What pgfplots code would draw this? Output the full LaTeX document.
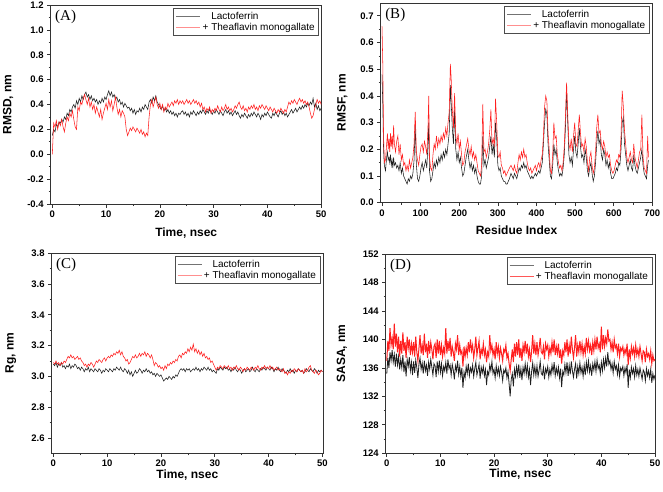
\documentclass[border=0pt]{standalone}
\usepackage{fontspec}
\setmainfont{Liberation Sans}
\newfontfamily\tnr{Liberation Serif}
\usepackage{pgfplots}
\usepackage{pgfplotstable}
\pgfplotsset{compat=1.18}

\definecolor{lfblk}{HTML}{1E1E1E}
\definecolor{tfred}{HTML}{FF1F1F}

% RMSD (A): time, lactoferrin, + theaflavin monogallate
\pgfplotstableread{
t lf tf
0 0.15 0.00
0.25 0.20 0.25
0.5 0.18 0.22
0.75 0.24 0.27
1 0.22 0.20
1.25 0.26 0.26
1.5 0.25 0.23
1.75 0.28 0.28
2 0.26 0.22
2.25 0.30 0.18
2.5 0.28 0.25
2.75 0.33 0.30
3 0.31 0.27
3.25 0.36 0.33
3.5 0.34 0.30
3.75 0.38 0.35
4 0.40 0.28
4.25 0.37 0.22
4.5 0.43 0.20
4.75 0.40 0.38
5 0.45 0.35
5.25 0.42 0.42
5.5 0.47 0.40
5.75 0.44 0.45
6 0.48 0.48
6.25 0.50 0.44
6.5 0.46 0.40
6.75 0.48 0.45
7 0.44 0.38
7.25 0.47 0.42
7.5 0.43 0.36
7.75 0.45 0.40
8 0.42 0.33
8.25 0.44 0.38
8.5 0.40 0.34
8.75 0.43 0.30
9 0.41 0.36
9.25 0.45 0.28
9.5 0.42 0.33
9.75 0.46 0.37
10 0.44 0.41
10.25 0.48 0.36
10.5 0.51 0.44
10.75 0.47 0.38
11 0.50 0.43
11.25 0.46 0.35
11.5 0.48 0.40
11.75 0.44 0.46
12 0.46 0.38
12.25 0.42 0.32
12.5 0.44 0.36
12.75 0.40 0.30
13 0.42 0.35
13.25 0.38 0.33
13.5 0.41 0.30
13.75 0.39 0.20
14 0.37 0.15
14.25 0.38 0.18
14.5 0.35 0.21
14.75 0.37 0.19
15 0.33 0.22
15.25 0.36 0.20
15.5 0.32 0.18
15.75 0.35 0.21
16 0.34 0.19
16.25 0.37 0.17
16.5 0.34 0.20
16.75 0.38 0.16
17 0.36 0.18
17.25 0.40 0.14
17.5 0.38 0.17
17.75 0.36 0.15
18 0.42 0.30
18.25 0.44 0.40
18.5 0.41 0.44
18.75 0.46 0.38
19 0.43 0.42
19.25 0.47 0.46
19.5 0.42 0.40
19.75 0.40 0.37
20 0.38 0.41
20.25 0.36 0.36
20.5 0.39 0.40
20.75 0.35 0.34
21 0.37 0.38
21.25 0.34 0.36
21.5 0.36 0.41
21.75 0.33 0.38
22 0.35 0.40
22.25 0.32 0.42
22.5 0.34 0.39
22.75 0.31 0.43
23 0.33 0.41
23.25 0.30 0.44
23.5 0.33 0.40
23.75 0.32 0.43
24 0.34 0.41
24.25 0.35 0.43
24.5 0.32 0.40
24.75 0.34 0.42
25 0.31 0.44
25.25 0.33 0.41
25.5 0.30 0.43
25.75 0.34 0.40
26 0.32 0.42
26.25 0.35 0.44
26.5 0.33 0.41
26.75 0.31 0.43
27 0.34 0.40
27.25 0.32 0.42
27.5 0.35 0.38
27.75 0.33 0.41
28 0.36 0.36
28.25 0.34 0.38
28.5 0.32 0.34
28.75 0.35 0.37
29 0.33 0.35
29.25 0.36 0.38
29.5 0.34 0.33
29.75 0.32 0.36
30 0.35 0.34
30.25 0.33 0.37
30.5 0.36 0.35
30.75 0.34 0.39
31 0.32 0.36
31.25 0.35 0.34
31.5 0.33 0.38
31.75 0.31 0.35
32 0.34 0.37
32.25 0.36 0.40
32.5 0.33 0.36
32.75 0.35 0.38
33 0.32 0.35
33.25 0.34 0.37
33.5 0.31 0.34
33.75 0.33 0.36
34 0.35 0.39
34.25 0.32 0.37
34.5 0.34 0.40
34.75 0.31 0.42
35 0.29 0.38
35.25 0.32 0.36
35.5 0.30 0.39
35.75 0.33 0.35
36 0.31 0.37
36.25 0.29 0.34
36.5 0.32 0.38
36.75 0.30 0.36
37 0.33 0.39
37.25 0.31 0.37
37.5 0.34 0.40
37.75 0.32 0.36
38 0.30 0.38
38.25 0.33 0.35
38.5 0.31 0.39
38.75 0.28 0.37
39 0.32 0.40
39.25 0.30 0.38
39.5 0.33 0.36
39.75 0.31 0.39
40 0.34 0.37
40.25 0.32 0.35
40.5 0.30 0.38
40.75 0.29 0.36
41 0.33 0.34
41.25 0.31 0.37
41.5 0.34 0.35
41.75 0.32 0.33
42 0.30 0.36
42.25 0.33 0.34
42.5 0.35 0.37
42.75 0.32 0.35
43 0.34 0.33
43.25 0.31 0.36
43.5 0.33 0.34
43.75 0.30 0.38
44 0.32 0.42
44.25 0.34 0.40
44.5 0.36 0.43
44.75 0.33 0.41
45 0.35 0.44
45.25 0.37 0.42
45.5 0.34 0.40
45.75 0.36 0.43
46 0.38 0.45
46.25 0.36 0.42
46.5 0.39 0.44
46.75 0.37 0.41
47 0.40 0.43
47.25 0.38 0.40
47.5 0.41 0.42
47.75 0.39 0.38
48 0.42 0.33
48.25 0.40 0.29
48.5 0.45 0.31
48.75 0.38 0.36
49 0.41 0.40
49.25 0.36 0.44
49.5 0.39 0.41
49.75 0.35 0.43
50 0.37 0.40
}\rmsd

% RMSF (B): residue, lactoferrin, + theaflavin monogallate
\pgfplotstableread{
r lf tf
0 0.48 0.66
2 0.37 0.52
4 0.20 0.25
6 0.14 0.15
9 0.12 0.16
12 0.17 0.22
14 0.19 0.26
16 0.16 0.20
18 0.17 0.24
20 0.15 0.19
22 0.18 0.26
24 0.14 0.21
26 0.16 0.25
28 0.13 0.20
30 0.17 0.29
32 0.14 0.22
35 0.15 0.19
38 0.13 0.23
41 0.14 0.25
44 0.12 0.18
47 0.15 0.22
50 0.11 0.16
53 0.13 0.18
56 0.10 0.14
59 0.09 0.15
62 0.08 0.12
65 0.07 0.14
68 0.09 0.12
71 0.08 0.16
74 0.10 0.13
77 0.09 0.15
80 0.11 0.17
83 0.16 0.22
86 0.29 0.34
89 0.14 0.19
92 0.09 0.16
95 0.08 0.14
98 0.10 0.18
101 0.13 0.21
104 0.15 0.22
107 0.12 0.19
110 0.14 0.23
113 0.16 0.21
116 0.13 0.18
119 0.22 0.28
121 0.30 0.40
123 0.12 0.17
126 0.08 0.13
129 0.09 0.12
132 0.12 0.18
135 0.15 0.22
138 0.13 0.20
141 0.16 0.25
144 0.14 0.21
147 0.17 0.24
150 0.15 0.22
153 0.18 0.25
156 0.16 0.23
159 0.19 0.26
162 0.17 0.24
165 0.20 0.28
168 0.18 0.25
171 0.22 0.30
174 0.26 0.34
177 0.44 0.52
179 0.38 0.47
182 0.28 0.35
185 0.22 0.28
188 0.35 0.41
191 0.20 0.25
194 0.16 0.22
197 0.19 0.26
200 0.15 0.20
203 0.17 0.23
206 0.13 0.18
209 0.10 0.14
212 0.11 0.15
215 0.14 0.19
218 0.17 0.21
222 0.20 0.24
225 0.16 0.20
228 0.13 0.18
231 0.15 0.21
234 0.12 0.17
237 0.14 0.19
240 0.11 0.16
243 0.13 0.18
246 0.10 0.15
249 0.08 0.12
252 0.07 0.11
255 0.07 0.10
258 0.10 0.14
261 0.25 0.37
264 0.14 0.19
267 0.16 0.20
270 0.13 0.17
273 0.15 0.19
276 0.17 0.22
279 0.21 0.27
282 0.25 0.35
285 0.18 0.22
288 0.22 0.24
291 0.17 0.21
294 0.30 0.39
297 0.24 0.30
300 0.14 0.18
303 0.12 0.17
306 0.13 0.19
309 0.10 0.14
312 0.09 0.13
315 0.08 0.11
318 0.08 0.12
321 0.07 0.10
324 0.07 0.11
327 0.08 0.12
330 0.09 0.13
334 0.11 0.14
337 0.10 0.13
340 0.09 0.12
343 0.11 0.14
346 0.10 0.12
349 0.09 0.11
352 0.11 0.15
355 0.13 0.18
358 0.12 0.16
361 0.14 0.19
364 0.13 0.17
367 0.15 0.20
370 0.13 0.17
373 0.14 0.18
376 0.12 0.15
379 0.11 0.13
382 0.10 0.12
385 0.09 0.13
388 0.10 0.11
391 0.09 0.12
394 0.10 0.13
397 0.11 0.14
400 0.10 0.12
403 0.11 0.14
406 0.12 0.15
409 0.11 0.13
412 0.13 0.16
415 0.15 0.18
418 0.22 0.25
421 0.30 0.36
424 0.35 0.40
427 0.33 0.38
430 0.22 0.26
433 0.16 0.20
436 0.10 0.12
439 0.09 0.11
442 0.14 0.18
445 0.22 0.30
448 0.18 0.24
451 0.20 0.25
454 0.15 0.18
457 0.12 0.15
460 0.10 0.13
463 0.11 0.14
466 0.10 0.12
469 0.13 0.15
472 0.18 0.21
475 0.28 0.32
478 0.42 0.45
481 0.30 0.33
484 0.18 0.22
487 0.15 0.20
490 0.17 0.24
493 0.14 0.19
496 0.20 0.25
499 0.25 0.30
502 0.19 0.22
505 0.17 0.21
508 0.22 0.27
511 0.28 0.33
514 0.21 0.26
517 0.17 0.21
520 0.18 0.22
523 0.15 0.19
526 0.20 0.24
529 0.17 0.21
532 0.12 0.15
535 0.10 0.12
538 0.13 0.17
541 0.15 0.19
544 0.11 0.14
547 0.08 0.11
550 0.10 0.13
553 0.15 0.19
556 0.22 0.28
559 0.27 0.33
562 0.22 0.26
565 0.24 0.27
568 0.18 0.22
571 0.16 0.20
574 0.20 0.23
577 0.18 0.21
580 0.14 0.17
583 0.16 0.19
586 0.13 0.17
589 0.15 0.18
592 0.11 0.14
595 0.09 0.12
598 0.09 0.11
601 0.10 0.12
604 0.11 0.14
607 0.13 0.16
610 0.12 0.15
613 0.15 0.18
616 0.14 0.17
619 0.20 0.25
622 0.30 0.42
625 0.32 0.36
628 0.22 0.27
631 0.18 0.22
634 0.14 0.17
637 0.12 0.15
640 0.14 0.17
643 0.16 0.19
646 0.13 0.16
649 0.12 0.15
652 0.18 0.22
655 0.14 0.17
658 0.12 0.15
661 0.11 0.13
664 0.13 0.16
667 0.15 0.19
670 0.17 0.20
673 0.20 0.33
676 0.14 0.17
679 0.11 0.13
682 0.10 0.12
685 0.09 0.11
688 0.14 0.25
690 0.16 0.17
}\rmsf

% Rg (C)
\pgfplotstableread{
t lf tf
0 3.08 3.09
0.25 3.07 3.08
0.5 3.09 3.10
0.75 3.06 3.08
1 3.08 3.09
1.25 3.07 3.07
1.5 3.09 3.09
1.75 3.06 3.08
2 3.07 3.10
2.25 3.05 3.09
2.5 3.07 3.11
2.75 3.06 3.13
3 3.08 3.12
3.25 3.05 3.14
3.5 3.07 3.12
3.75 3.06 3.13
4 3.08 3.11
4.25 3.07 3.12
4.5 3.05 3.13
4.75 3.06 3.11
5 3.04 3.12
5.25 3.06 3.10
5.5 3.05 3.09
5.75 3.03 3.07
6 3.05 3.08
6.25 3.04 3.06
6.5 3.06 3.08
6.75 3.03 3.07
7 3.05 3.09
7.25 3.04 3.08
7.5 3.03 3.06
7.75 3.05 3.08
8 3.04 3.10
8.25 3.03 3.09
8.5 3.05 3.11
8.75 3.04 3.10
9 3.02 3.09
9.25 3.04 3.11
9.5 3.03 3.12
9.75 3.05 3.10
10 3.04 3.12
10.25 3.03 3.13
10.5 3.05 3.12
10.75 3.04 3.14
11 3.03 3.13
11.25 3.05 3.15
11.5 3.04 3.14
11.75 3.06 3.16
12 3.05 3.15
12.25 3.04 3.17
12.5 3.06 3.14
12.75 3.04 3.16
13 3.03 3.13
13.25 3.05 3.12
13.5 3.04 3.10
13.75 3.02 3.11
14 3.04 3.08
14.25 3.01 3.09
14.5 3.03 3.11
14.75 3.00 3.13
15 3.02 3.12
15.25 3.04 3.14
15.5 3.02 3.12
15.75 3.03 3.13
16 3.05 3.15
16.25 3.04 3.13
16.5 3.02 3.15
16.75 3.04 3.14
17 3.03 3.16
17.25 3.05 3.13
17.5 3.03 3.15
17.75 3.04 3.14
18 3.02 3.12
18.25 3.03 3.14
18.5 3.01 3.11
18.75 3.02 3.07
19 3.00 3.09
19.25 3.02 3.08
19.5 3.01 3.06
19.75 3.00 3.07
20 3.01 3.05
20.25 2.99 3.06
20.5 2.97 3.04
20.75 2.98 3.07
21 2.99 3.05
21.25 2.98 3.08
21.5 3.00 3.07
21.75 2.99 3.09
22 2.98 3.08
22.25 3.00 3.10
22.5 2.99 3.09
22.75 3.01 3.11
23 3.00 3.10
23.25 3.02 3.13
23.5 3.04 3.14
23.75 3.05 3.12
24 3.04 3.15
24.25 3.05 3.14
24.5 3.03 3.16
24.75 3.05 3.15
25 3.04 3.18
25.25 3.05 3.16
25.5 3.03 3.19
25.75 3.04 3.17
26 3.05 3.21
26.25 3.04 3.16
26.5 3.06 3.18
26.75 3.04 3.15
27 3.05 3.17
27.25 3.03 3.14
27.5 3.05 3.16
27.75 3.04 3.13
28 3.06 3.15
28.25 3.05 3.12
28.5 3.04 3.13
28.75 3.06 3.11
29 3.04 3.12
29.25 3.05 3.09
29.5 3.03 3.10
29.75 3.04 3.08
30 3.03 3.06
30.25 3.02 3.04
30.5 3.05 3.06
30.75 3.04 3.05
31 3.06 3.07
31.25 3.05 3.06
31.5 3.04 3.05
31.75 3.06 3.07
32 3.05 3.06
32.25 3.06 3.05
32.5 3.04 3.07
32.75 3.05 3.05
33 3.03 3.06
33.25 3.05 3.04
33.5 3.04 3.06
33.75 3.06 3.05
34 3.04 3.07
34.25 3.03 3.05
34.5 3.05 3.04
34.75 3.04 3.06
35 3.02 3.05
35.25 3.04 3.03
35.5 3.05 3.05
35.75 3.03 3.04
36 3.04 3.06
36.25 3.05 3.05
36.5 3.03 3.04
36.75 3.04 3.06
37 3.06 3.05
37.25 3.04 3.04
37.5 3.03 3.06
37.75 3.05 3.05
38 3.04 3.07
38.25 3.03 3.05
38.5 3.05 3.04
38.75 3.04 3.06
39 3.06 3.05
39.25 3.05 3.07
39.5 3.04 3.05
39.75 3.06 3.06
40 3.05 3.05
40.25 3.04 3.07
40.5 3.06 3.05
40.75 3.05 3.06
41 3.03 3.04
41.25 3.05 3.05
41.5 3.04 3.06
41.75 3.06 3.04
42 3.04 3.05
42.25 3.03 3.04
42.5 3.05 3.03
42.75 3.04 3.05
43 3.03 3.02
43.25 3.02 3.03
43.5 3.04 3.01
43.75 3.03 3.03
44 3.05 3.02
44.25 3.03 3.04
44.5 3.04 3.03
44.75 3.02 3.05
45 3.04 3.04
45.25 3.03 3.03
45.5 3.05 3.05
45.75 3.04 3.04
46 3.03 3.03
46.25 3.04 3.04
46.5 3.02 3.02
46.75 3.03 3.05
47 3.05 3.03
47.25 3.04 3.04
47.5 3.03 3.06
47.75 3.05 3.07
48 3.04 3.04
48.25 3.03 3.03
48.5 3.05 3.02
48.75 3.04 3.04
49 3.02 3.03
49.25 3.04 3.01
49.5 3.03 3.02
49.75 3.04 3.04
50 3.03 3.03
}\rg

% SASA (D)
\pgfplotstableread{
t lf tf
0 135.2 137.0
0.2 137.4 139.8
0.4 136.0 138.4
0.6 138.2 141.6
0.8 137.0 139.2
1 138.5 140.2
1.2 136.8 138.6
1.4 137.9 142.2
1.6 136.2 139.0
1.8 138.0 140.8
2 136.4 138.2
2.2 137.6 140.4
2.4 135.8 137.6
2.6 137.2 139.8
2.8 136.0 138.0
3 137.8 141.0
3.2 135.4 138.4
3.4 136.9 139.6
3.6 134.8 137.4
3.8 137.2 140.4
4 136.2 138.8
4.2 137.5 140.0
4.4 135.6 137.8
4.6 136.8 139.4
4.8 135.0 138.2
5 136.9 139.6
5.2 135.3 137.6
5.4 137.1 140.4
5.6 136.0 138.2
5.8 134.6 137.0
6 136.5 138.8
6.2 137.4 140.6
6.4 135.8 138.0
6.6 136.7 139.2
6.8 135.2 137.8
7 137.0 140.8
7.2 135.6 138.2
7.4 136.4 139.4
7.6 134.9 137.4
7.8 136.8 139.8
8 135.8 138.0
8.2 137.2 139.6
8.4 136.1 138.6
8.6 135.0 137.2
8.8 136.6 139.0
9 136.3 139.4
9.2 134.7 137.4
9.4 136.9 140.0
9.6 135.5 138.0
9.8 137.0 139.8
10 135.4 137.8
10.2 136.6 139.2
10.4 134.9 137.6
10.6 136.2 138.8
10.8 135.6 138.0
11 136.8 141.6
11.2 135.2 138.0
11.4 137.2 139.8
11.6 135.9 138.4
11.8 136.4 140.2
12 135.0 137.6
12.2 136.5 139.0
12.4 135.7 138.2
12.6 134.4 137.0
12.8 136.3 139.4
13 135.6 138.6
13.2 137.0 140.6
13.4 135.1 137.8
13.6 136.2 139.2
13.8 134.8 138.0
14 136.0 138.4
14.2 133.2 136.2
14.4 135.4 139.0
14.6 134.6 137.6
14.8 136.2 138.8
15 135.2 137.8
15.2 136.6 139.6
15.4 134.9 138.2
15.6 136.0 140.0
15.8 135.4 138.4
16 136.4 139.2
16.2 134.8 137.4
16.4 135.9 138.6
16.6 136.8 140.4
16.8 135.0 137.8
17 135.7 138.8
17.2 136.5 139.8
17.4 134.5 137.2
17.6 136.1 138.6
17.8 135.3 138.0
18 136.2 139.4
18.2 134.9 137.8
18.4 135.8 138.6
18.6 133.6 136.8
18.8 135.5 138.2
19 135.0 137.6
19.2 136.4 140.6
19.4 135.6 138.4
19.6 136.9 139.2
19.8 135.2 137.8
20 135.8 138.6
20.2 134.6 137.2
20.4 136.3 139.6
20.6 135.1 138.0
20.8 136.0 139.0
21 134.9 137.4
21.2 136.2 138.8
21.4 135.4 138.0
21.6 134.2 137.0
21.8 135.7 138.6
22 135.3 138.2
22.2 136.0 139.2
22.4 134.6 137.4
22.6 135.5 138.0
22.8 133.8 136.6
23 132.0 135.6
23.2 134.4 137.2
23.4 135.2 138.6
23.6 133.4 136.8
23.8 135.8 139.4
24 134.8 137.6
24.2 136.2 139.6
24.4 135.0 137.8
24.6 136.5 140.0
24.8 134.6 137.4
25 135.9 138.8
25.2 134.3 137.0
25.4 136.1 139.2
25.6 135.2 138.2
25.8 136.6 139.8
26 135.1 138.0
26.2 136.4 139.4
26.4 134.7 137.6
26.6 135.8 138.6
26.8 133.6 136.8
27 135.5 138.4
27.2 136.7 140.6
27.4 135.0 138.0
27.6 136.2 139.4
27.8 134.9 137.8
28 136.3 139.6
28.2 134.8 137.8
28.4 135.7 138.8
28.6 136.9 140.2
28.8 135.2 138.2
29 135.0 138.0
29.2 136.1 139.0
29.4 134.4 137.2
29.6 135.9 139.4
29.8 135.3 138.6
30 136.2 139.2
30.2 134.7 137.6
30.4 135.8 138.8
30.6 135.0 138.0
30.8 136.4 139.6
31 135.4 138.2
31.2 136.8 140.0
31.4 134.9 137.8
31.6 136.0 139.0
31.8 135.1 138.0
32 136.1 139.4
32.2 134.6 137.4
32.4 135.9 138.6
32.6 133.3 136.6
32.8 135.5 138.4
33 135.0 137.8
33.2 136.5 139.6
33.4 135.3 138.2
33.6 136.8 140.0
33.8 134.9 137.6
34 136.4 139.2
34.2 135.1 138.0
34.4 136.9 140.4
34.6 135.6 138.6
34.8 134.7 137.4
35 135.8 138.8
35.2 136.6 140.6
35.4 134.5 137.6
35.6 136.2 139.2
35.8 135.2 138.2
36 136.7 139.8
36.2 135.3 138.2
36.4 136.1 139.4
36.6 134.8 137.8
36.8 136.4 139.0
37 135.0 138.0
37.2 136.8 140.2
37.4 135.6 138.6
37.6 137.0 139.8
37.8 135.4 138.4
38 136.3 139.2
38.2 134.9 137.8
38.4 136.6 139.6
38.6 135.7 138.4
38.8 136.9 140.0
39 135.5 138.6
39.2 137.1 140.4
39.4 135.9 138.8
39.6 136.4 139.4
39.8 135.2 138.2
40 136.8 141.8
40.2 135.6 138.6
40.4 137.2 140.6
40.6 136.0 139.0
40.8 137.4 140.2
41 136.2 139.4
41.2 138.2 141.4
41.4 136.5 139.8
41.6 137.0 140.0
41.8 135.8 138.6
42 136.6 139.6
42.2 135.3 138.2
42.4 136.9 140.0
42.6 135.8 138.8
42.8 136.3 139.2
43 135.1 138.0
43.2 136.4 139.4
43.4 134.8 137.6
43.6 136.0 138.8
43.8 135.6 138.4
44 136.2 139.0
44.2 134.9 137.8
44.4 136.0 138.6
44.6 135.3 138.0
44.8 136.5 139.4
45 133.2 136.4
45.2 135.8 138.6
45.4 134.6 137.4
45.6 136.1 139.0
45.8 135.2 138.0
46 135.9 138.8
46.2 134.7 137.6
46.4 136.3 139.2
46.6 135.0 137.8
46.8 135.8 138.6
47 134.8 137.6
47.2 136.0 139.0
47.4 135.2 138.0
47.6 134.4 137.0
47.8 135.7 138.4
48 135.4 138.2
48.2 134.2 136.8
48.4 135.9 138.6
48.6 134.9 137.6
48.8 135.6 138.0
49 134.6 137.2
49.2 135.8 138.4
49.4 133.9 136.6
49.6 135.2 137.8
49.8 134.4 137.0
50 135.0 137.2
}\sasa

\pgfplotsset{
  md/.style={
    scale only axis,
    anchor=north west,
    axis line style={black!80, line width=0.8pt},
    tick style={black!80, line width=0.7pt},
    tick align=outside,
    tick pos=left,
    major tick length=3.5pt,
    minor tick length=2pt,
    minor tick num=1,
    ticklabel style={font=\bfseries\fontsize{9.5}{10}\selectfont},
    /pgf/number format/assume math mode=true,
    label style={font=\bfseries\fontsize{12}{13}\selectfont},
    xlabel={Time, nsec},
    legend style={at={(rel axis cs:0.99,0.985)}, anchor=north east,
      draw=black!70, line width=0.6pt, inner xsep=2pt, inner ysep=1.5pt, row sep=-1.5pt,
      font=\fontsize{10}{11}\selectfont, cells={anchor=west, inner xsep=2pt}},
    legend image code/.code={\draw[#1] (0pt,0pt) -- (24pt,0pt);},
  },
}
\tikzset{plab/.style={anchor=north west, inner sep=0pt, font=\tnr\fontsize{15}{16}\selectfont}}

\begin{document}
\begin{tikzpicture}
\path[use as bounding box] (0,0) rectangle (663pt,-491pt);

% (A) RMSD
\begin{axis}[md, at={(50.7pt,-5pt)}, width=271pt, height=199pt,
    xmin=-0.3, xmax=50.1, ymin=-0.4, ymax=1.2,
    xtick={0,10,...,50}, ytick={-0.4,-0.2,...,1.21},
    yticklabel style={/pgf/number format/fixed, /pgf/number format/fixed zerofill, /pgf/number format/precision=1},
    ylabel={RMSD, nm},
    ylabel style={at={(axis description cs:-0.157,0.5)}, anchor=center},
    xlabel style={at={(axis description cs:0.5,-0.148)}, anchor=center}]
  \addplot[draw=lfblk, line width=0.55pt, forget plot] table[x=t, y=lf] {\rmsd};
  \addplot[draw=tfred, line width=0.55pt, forget plot] table[x=t, y=tf] {\rmsd};
  \addlegendimage{draw=black!55, line width=0.9pt}
  \addlegendentry{\hphantom{+ }Lactoferrin}
  \addlegendimage{draw=tfred!50, line width=0.9pt}
  \addlegendentry{+ Theaflavin monogallate}
  \node[plab] at (rel axis cs:0.016,0.975) {(A)};
\end{axis}

% (B) RMSF
\begin{axis}[md, at={(380.7pt,-3pt)}, width=271.6pt, height=199.7pt,
    xmin=-3.4, xmax=700, ymin=0, ymax=0.748,
    xtick={0,100,...,700}, ytick={0,0.1,...,0.71},
    yticklabel style={/pgf/number format/fixed, /pgf/number format/fixed zerofill, /pgf/number format/precision=1},
    xlabel={Residue Index}, ylabel={RMSF, nm},
    ylabel style={at={(axis description cs:-0.141,0.5)}, anchor=center},
    xlabel style={at={(axis description cs:0.5,-0.137)}, anchor=center}]
  \addplot[draw=lfblk, line width=0.55pt, forget plot] table[x=r, y=lf] {\rmsf};
  \addplot[draw=tfred, line width=0.55pt, forget plot] table[x=r, y=tf] {\rmsf};
  \addlegendimage{draw=black!55, line width=0.9pt}
  \addlegendentry{\hphantom{+ }Lactoferrin}
  \addlegendimage{draw=tfred!50, line width=0.9pt}
  \addlegendentry{+ Theaflavin monogallate}
  \node[plab] at (rel axis cs:0.016,0.975) {(B)};
\end{axis}

% (C) Rg
\begin{axis}[md, at={(51.7pt,-253.3pt)}, width=271.3pt, height=200pt,
    xmin=-0.3, xmax=50.1, ymin=2.5, ymax=3.8,
    xtick={0,10,...,50}, ytick={2.6,2.8,...,3.81},
    yticklabel style={/pgf/number format/fixed, /pgf/number format/fixed zerofill, /pgf/number format/precision=1},
    ylabel={Rg, nm},
    ylabel style={at={(axis description cs:-0.151,0.5)}, anchor=center},
    xlabel style={at={(axis description cs:0.5,-0.108)}, anchor=center}]
  \addplot[draw=lfblk, line width=0.55pt, forget plot] table[x=t, y=lf] {\rg};
  \addplot[draw=tfred, line width=0.55pt, forget plot] table[x=t, y=tf] {\rg};
  \addlegendimage{draw=black!55, line width=0.9pt}
  \addlegendentry{\hphantom{+ }Lactoferrin}
  \addlegendimage{draw=tfred!50, line width=0.9pt}
  \addlegendentry{+ Theaflavin monogallate}
  \node[plab] at (rel axis cs:0.016,0.975) {(C)};
\end{axis}

% (D) SASA: red band drawn first, black over it
\begin{axis}[md, at={(385.7pt,-254pt)}, width=269.3pt, height=199.3pt,
    xmin=-0.2, xmax=50, ymin=124, ymax=152,
    xtick={0,10,...,50}, ytick={124,128,...,152},
    ylabel={SASA, nm},
    ylabel style={at={(axis description cs:-0.163,0.5)}, anchor=center},
    xlabel style={at={(axis description cs:0.5,-0.105)}, anchor=center}]
  \addplot[draw=tfred, line width=1pt, forget plot] table[x=t, y=tf] {\sasa};
  \addplot[draw=lfblk, line width=0.8pt, forget plot] table[x=t, y=lf] {\sasa};
  \addlegendimage{draw=black!55, line width=0.9pt}
  \addlegendentry{\hphantom{+ }Lactoferrin}
  \addlegendimage{draw=tfred!75, line width=0.9pt}
  \addlegendentry{+ Theaflavin monogallate}
  \node[plab] at (rel axis cs:0.016,0.975) {(D)};
\end{axis}
\end{tikzpicture}
\end{document}
